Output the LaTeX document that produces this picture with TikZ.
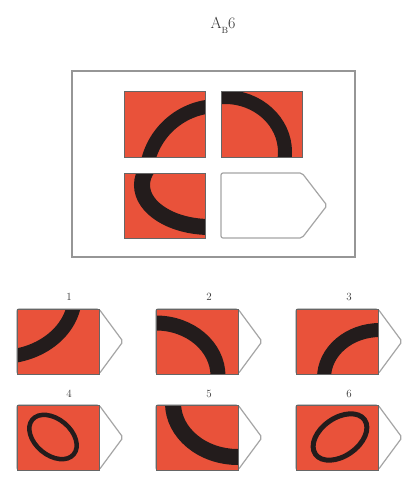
\documentclass[tikz,border=0pt]{standalone}
\definecolor{tilered}{RGB}{233,82,58}
\definecolor{bandblack}{RGB}{35,28,28}
\definecolor{framegray}{RGB}{150,150,150}
\definecolor{tabgray}{RGB}{165,165,165}
\tikzset{
  redtile/.style={fill=tilered, draw=black!60, line width=0.6pt},
  tabshape/.style={fill=white, draw=tabgray, line width=1.2pt, rounded corners=2pt},
  band/.style={draw=bandblack, line width=#1},
  band/.default=15pt,
  numlabel/.style={font=\fontsize{11}{13}\selectfont, inner sep=0pt, text=black!80},
}
\begin{document}
\begin{tikzpicture}[x=1pt,y=-1pt]
\useasboundingbox (0,0) rectangle (413,477);
\fill[white] (0,0) rectangle (413,477);

% title
\node[inner sep=0pt, text=black!80, font=\fontsize{16}{18}\selectfont] (title) at (223,25) {A\raisebox{-5pt}{\fontsize{9}{10}\selectfont B}6};

% matrix frame
\draw[draw=framegray, line width=1.6pt] (72,71) rectangle (355,257);

% top-left tile
\begin{scope}
\clip (124,91) rectangle (205,157);
\fill[tilered] (124,91) rectangle (205,157);
\draw[band=14pt] (218,178) ellipse [x radius=72, y radius=72];
\end{scope}
\draw[draw=black!60, line width=0.6pt] (124,91) rectangle (205,157);

% top-right tile
\begin{scope}
\clip (221,91) rectangle (302,157);
\fill[tilered] (221,91) rectangle (302,157);
\draw[band=14pt] (225,152) ellipse [x radius=60, y radius=55];
\end{scope}
\draw[draw=black!60, line width=0.6pt] (221,91) rectangle (302,157);

% bottom-left tile
\begin{scope}
\clip (124,173) rectangle (205,238);
\fill[tilered] (124,173) rectangle (205,238);
\draw[band=16pt] (210,185) ellipse [x radius=68, y radius=42];
\end{scope}
\draw[draw=black!60, line width=0.6pt] (124,173) rectangle (205,238);

% blank answer slot
\draw[tabshape] (221,173) -- (302,173) -- (327,205.5) -- (302,238) -- (221,238) -- cycle;

% ---------- options ----------
% option 1
\draw[tabshape] (17,309) -- (99,309) -- (123,341.5) -- (99,374) -- (17,374) -- cycle;
\begin{scope}
\clip (17,309) rectangle (99,374);
\fill[tilered] (17,309) rectangle (99,374);
\draw[band=14pt] (0,295) ellipse [x radius=75, y radius=62];
\end{scope}
\draw[draw=black!60, line width=0.6pt] (17,309) rectangle (99,374);
\node[numlabel] (l1) at (69,297) {1};

% option 2
\draw[tabshape] (156,309) -- (238,309) -- (262,341.5) -- (238,374) -- (156,374) -- cycle;
\begin{scope}
\clip (156,309) rectangle (238,374);
\fill[tilered] (156,309) rectangle (238,374);
\draw[band=15pt] (156,376) ellipse [x radius=62, y radius=53];
\end{scope}
\draw[draw=black!60, line width=0.6pt] (156,309) rectangle (238,374);
\node[numlabel] (l2) at (209,297) {2};

% option 3
\draw[tabshape] (296,309) -- (378,309) -- (402,341.5) -- (378,374) -- (296,374) -- cycle;
\begin{scope}
\clip (296,309) rectangle (378,374);
\fill[tilered] (296,309) rectangle (378,374);
\draw[band=14pt] (380,378) ellipse [x radius=56, y radius=48];
\end{scope}
\draw[draw=black!60, line width=0.6pt] (296,309) rectangle (378,374);
\node[numlabel] (l3) at (349,297) {3};

% option 4
\draw[tabshape] (17,405) -- (99,405) -- (123,437.5) -- (99,470) -- (17,470) -- cycle;
\fill[tilered] (17,405) rectangle (99,470);
\draw[band=4.5pt] (53,437) ellipse [x radius=27, y radius=18, rotate=-40];
\draw[draw=black!60, line width=0.6pt] (17,405) rectangle (99,470);
\node[numlabel] (l4) at (69,394) {4};

% option 5
\draw[tabshape] (156,405) -- (238,405) -- (262,437.5) -- (238,470) -- (156,470) -- cycle;
\begin{scope}
\clip (156,405) rectangle (238,470);
\fill[tilered] (156,405) rectangle (238,470);
\draw[band=16pt] (238,403) ellipse [x radius=65, y radius=54];
\end{scope}
\draw[draw=black!60, line width=0.6pt] (156,405) rectangle (238,470);
\node[numlabel] (l5) at (209,394) {5};

% option 6
\draw[tabshape] (296,405) -- (378,405) -- (402,437.5) -- (378,470) -- (296,470) -- cycle;
\fill[tilered] (296,405) rectangle (378,470);
\draw[band=5pt] (340,437) ellipse [x radius=30, y radius=19, rotate=35];
\draw[draw=black!60, line width=0.6pt] (296,405) rectangle (378,470);
\node[numlabel] (l6) at (349,394) {6};
\end{tikzpicture}
\end{document}
